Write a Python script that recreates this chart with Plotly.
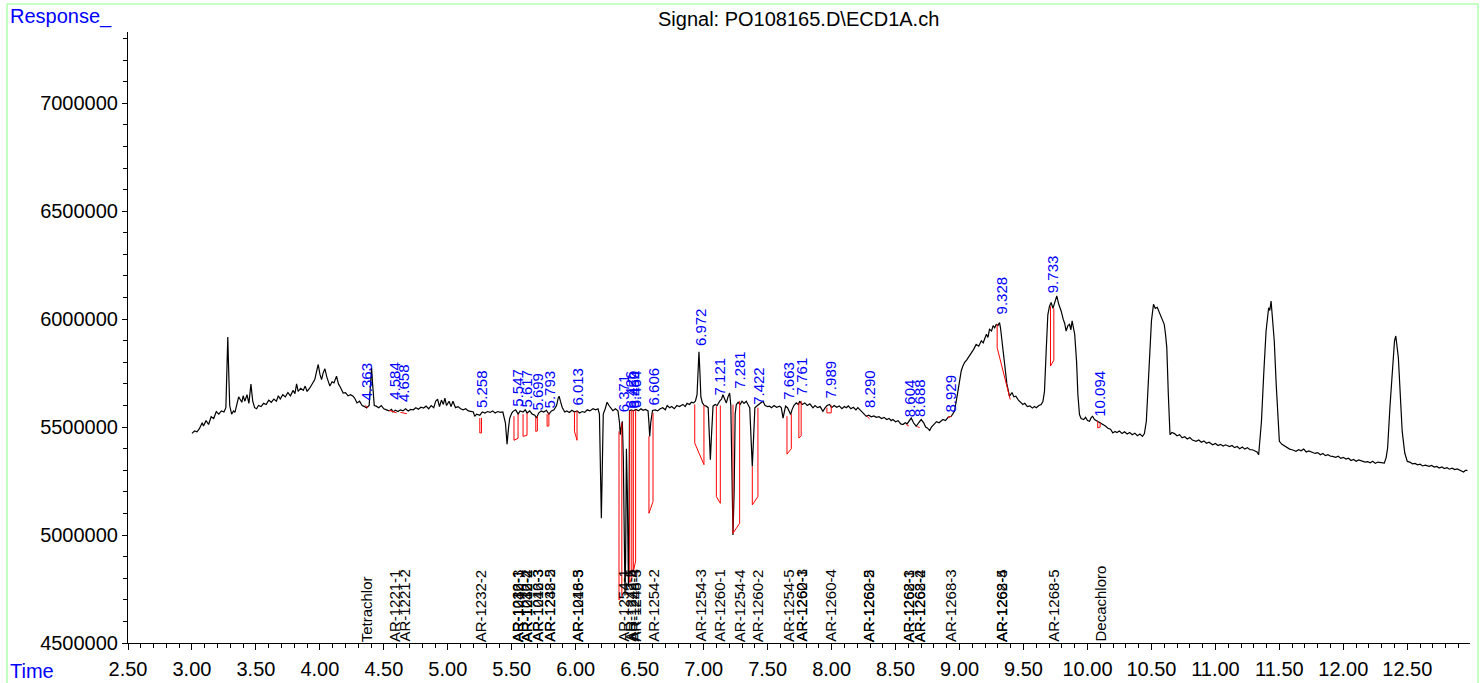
import plotly.graph_objects as go

# ---- chromatogram signal (time in min, response) ----
signal = [
    (3.00, 5471e3), (3.02, 5482e3), (3.04, 5478e3), (3.06, 5495e3), (3.08, 5520e3), (3.09, 5505e3),
    (3.11, 5530e3), (3.13, 5512e3), (3.15, 5548e3), (3.17, 5540e3), (3.19, 5572e3), (3.21, 5560e3),
    (3.23, 5575e3), (3.25, 5570e3), (3.265, 5590e3), (3.275, 5800e3), (3.280, 5917e3), (3.285, 5800e3),
    (3.295, 5600e3), (3.31, 5560e3), (3.325, 5575e3), (3.336, 5568e3), (3.35, 5600e3), (3.365, 5640e3),
    (3.375, 5630e3), (3.39, 5615e3), (3.40, 5645e3), (3.414, 5620e3), (3.43, 5650e3), (3.445, 5610e3),
    (3.461, 5699e3), (3.475, 5620e3), (3.49, 5590e3), (3.505, 5585e3), (3.52, 5600e3), (3.54, 5595e3),
    (3.56, 5610e3), (3.58, 5605e3), (3.60, 5625e3), (3.62, 5615e3), (3.64, 5630e3), (3.66, 5620e3),
    (3.675, 5645e3), (3.69, 5630e3), (3.71, 5650e3), (3.73, 5640e3), (3.75, 5660e3), (3.77, 5645e3),
    (3.79, 5670e3), (3.805, 5655e3), (3.818, 5700e3), (3.83, 5665e3), (3.85, 5680e3), (3.87, 5670e3),
    (3.885, 5690e3), (3.90, 5665e3), (3.92, 5680e3), (3.94, 5700e3), (3.96, 5720e3), (3.975, 5760e3),
    (3.987, 5790e3), (4.00, 5745e3), (4.013, 5720e3), (4.025, 5750e3), (4.039, 5770e3), (4.055, 5730e3),
    (4.07, 5700e3), (4.078, 5690e3), (4.095, 5710e3), (4.11, 5705e3), (4.13, 5736e3), (4.145, 5700e3),
    (4.16, 5685e3), (4.182, 5658e3), (4.20, 5660e3), (4.22, 5645e3), (4.24, 5650e3), (4.26, 5643e3),
    (4.275, 5630e3), (4.29, 5612e3), (4.31, 5620e3), (4.33, 5600e3), (4.35, 5595e3), (4.365, 5589e3),
    (4.385, 5600e3), (4.395, 5700e3), (4.404, 5775e3), (4.412, 5700e3), (4.425, 5600e3), (4.44, 5597e3),
    (4.46, 5590e3), (4.48, 5600e3), (4.50, 5585e3), (4.52, 5580e3), (4.54, 5575e3), (4.56, 5582e3),
    (4.57, 5570e3), (4.59, 5578e3), (4.61, 5572e3), (4.63, 5580e3), (4.65, 5575e3), (4.67, 5585e3),
    (4.69, 5575e3), (4.71, 5582e3), (4.73, 5580e3), (4.75, 5590e3), (4.77, 5583e3), (4.79, 5592e3),
    (4.81, 5588e3), (4.83, 5597e3), (4.85, 5585e3), (4.87, 5600e3), (4.89, 5590e3), (4.905, 5620e3),
    (4.92, 5629e3), (4.935, 5595e3), (4.95, 5625e3), (4.965, 5605e3), (4.977, 5634e3), (4.99, 5600e3),
    (5.01, 5620e3), (5.025, 5595e3), (5.04, 5620e3), (5.06, 5590e3), (5.08, 5595e3), (5.10, 5585e3),
    (5.12, 5580e3), (5.14, 5585e3), (5.16, 5575e3), (5.18, 5573e3), (5.20, 5570e3), (5.21, 5550e3),
    (5.225, 5560e3), (5.25, 5555e3), (5.27, 5570e3), (5.29, 5565e3), (5.31, 5572e3), (5.33, 5568e3),
    (5.35, 5575e3), (5.37, 5565e3), (5.39, 5572e3), (5.41, 5568e3), (5.43, 5570e3), (5.45, 5520e3),
    (5.463, 5421e3), (5.475, 5500e3), (5.484, 5542e3), (5.50, 5565e3), (5.51, 5573e3), (5.53, 5580e3),
    (5.55, 5560e3), (5.565, 5575e3), (5.588, 5570e3), (5.605, 5580e3), (5.62, 5565e3), (5.64, 5575e3),
    (5.66, 5560e3), (5.68, 5555e3), (5.693, 5542e3), (5.71, 5565e3), (5.73, 5575e3), (5.75, 5570e3),
    (5.77, 5578e3), (5.79, 5560e3), (5.81, 5575e3), (5.83, 5580e3), (5.85, 5600e3), (5.863, 5635e3),
    (5.87, 5643e3), (5.88, 5620e3), (5.895, 5590e3), (5.914, 5570e3), (5.93, 5575e3), (5.95, 5568e3),
    (5.97, 5578e3), (5.99, 5570e3), (6.01, 5575e3), (6.03, 5565e3), (6.05, 5572e3), (6.07, 5568e3),
    (6.09, 5580e3), (6.11, 5575e3), (6.135, 5585e3), (6.155, 5580e3), (6.174, 5585e3), (6.185, 5560e3),
    (6.193, 5300e3), (6.20, 5078e3), (6.207, 5300e3), (6.215, 5560e3), (6.23, 5585e3), (6.245, 5615e3),
    (6.26, 5600e3), (6.275, 5590e3), (6.29, 5576e3), (6.31, 5585e3), (6.33, 5575e3), (6.342, 5520e3),
    (6.348, 5465e3), (6.356, 5500e3), (6.364, 5527e3), (6.372, 5350e3), (6.38, 4900e3), (6.385, 4720e3),
    (6.39, 4900e3), (6.396, 5400e3), (6.403, 5200e3), (6.408, 4800e3), (6.412, 4760e3), (6.416, 5000e3),
    (6.42, 5576e3), (6.435, 5580e3), (6.45, 5575e3), (6.47, 5582e3), (6.49, 5576e3), (6.51, 5585e3),
    (6.526, 5578e3), (6.545, 5582e3), (6.565, 5575e3), (6.572, 5520e3), (6.578, 5457e3), (6.586, 5520e3),
    (6.60, 5577e3), (6.62, 5580e3), (6.64, 5575e3), (6.66, 5585e3), (6.68, 5590e3), (6.70, 5580e3),
    (6.715, 5600e3), (6.734, 5590e3), (6.75, 5595e3), (6.77, 5585e3), (6.79, 5600e3), (6.81, 5595e3),
    (6.838, 5605e3), (6.855, 5595e3), (6.87, 5610e3), (6.89, 5605e3), (6.904, 5615e3), (6.92, 5612e3),
    (6.935, 5620e3), (6.948, 5650e3), (6.956, 5760e3), (6.963, 5849e3), (6.97, 5760e3), (6.978, 5640e3),
    (6.99, 5612e3), (7.005, 5600e3), (7.02, 5597e3), (7.035, 5590e3), (7.045, 5450e3), (7.052, 5349e3),
    (7.06, 5450e3), (7.073, 5597e3), (7.09, 5605e3), (7.105, 5600e3), (7.125, 5620e3), (7.14, 5630e3),
    (7.15, 5650e3), (7.165, 5625e3), (7.177, 5612e3), (7.19, 5640e3), (7.203, 5658e3), (7.212, 5600e3),
    (7.22, 5200e3), (7.229, 5000e3), (7.238, 5200e3), (7.246, 5560e3), (7.255, 5604e3), (7.27, 5615e3),
    (7.285, 5605e3), (7.30, 5620e3), (7.315, 5610e3), (7.333, 5620e3), (7.35, 5600e3), (7.36, 5590e3),
    (7.37, 5450e3), (7.38, 5318e3), (7.39, 5450e3), (7.40, 5590e3), (7.42, 5600e3), (7.44, 5610e3),
    (7.463, 5620e3), (7.48, 5600e3), (7.50, 5595e3), (7.515, 5597e3), (7.53, 5590e3), (7.55, 5600e3),
    (7.57, 5592e3), (7.594, 5597e3), (7.607, 5589e3), (7.62, 5542e3), (7.63, 5580e3), (7.64, 5597e3),
    (7.655, 5590e3), (7.668, 5575e3), (7.68, 5558e3), (7.69, 5580e3), (7.705, 5600e3), (7.724, 5612e3),
    (7.74, 5605e3), (7.75, 5620e3), (7.77, 5605e3), (7.79, 5612e3), (7.81, 5600e3), (7.83, 5608e3),
    (7.854, 5589e3), (7.87, 5600e3), (7.89, 5590e3), (7.91, 5595e3), (7.932, 5573e3), (7.95, 5590e3),
    (7.965, 5600e3), (7.984, 5605e3), (8.00, 5590e3), (8.02, 5600e3), (8.04, 5592e3), (8.06, 5598e3),
    (8.08, 5585e3), (8.10, 5595e3), (8.115, 5590e3), (8.13, 5598e3), (8.15, 5585e3), (8.17, 5592e3),
    (8.19, 5580e3), (8.205, 5590e3), (8.219, 5581e3), (8.24, 5570e3), (8.255, 5560e3), (8.271, 5550e3),
    (8.29, 5555e3), (8.31, 5548e3), (8.33, 5552e3), (8.349, 5545e3), (8.37, 5548e3), (8.39, 5540e3),
    (8.41, 5545e3), (8.43, 5535e3), (8.45, 5540e3), (8.465, 5530e3), (8.479, 5535e3), (8.50, 5525e3),
    (8.52, 5530e3), (8.54, 5515e3), (8.557, 5512e3), (8.575, 5520e3), (8.59, 5515e3), (8.605, 5530e3),
    (8.622, 5542e3), (8.64, 5520e3), (8.661, 5504e3), (8.68, 5520e3), (8.70, 5535e3), (8.72, 5520e3),
    (8.735, 5500e3), (8.75, 5495e3), (8.766, 5484e3), (8.78, 5500e3), (8.80, 5515e3), (8.82, 5525e3),
    (8.84, 5520e3), (8.855, 5530e3), (8.87, 5535e3), (8.89, 5530e3), (8.91, 5545e3), (8.935, 5550e3),
    (8.96, 5573e3), (8.98, 5640e3), (9.00, 5713e3), (9.013, 5760e3), (9.026, 5783e3), (9.04, 5800e3),
    (9.055, 5810e3), (9.078, 5829e3), (9.095, 5845e3), (9.11, 5860e3), (9.13, 5883e3), (9.15, 5875e3),
    (9.17, 5900e3), (9.185, 5890e3), (9.195, 5907e3), (9.21, 5930e3), (9.222, 5915e3), (9.234, 5953e3),
    (9.25, 5945e3), (9.262, 5970e3), (9.275, 5960e3), (9.287, 5976e3), (9.30, 5970e3), (9.3125, 5984e3),
    (9.32, 5960e3), (9.335, 5880e3), (9.35, 5790e3), (9.37, 5700e3), (9.39, 5643e3), (9.41, 5660e3),
    (9.425, 5640e3), (9.44, 5643e3), (9.46, 5625e3), (9.48, 5615e3), (9.495, 5605e3), (9.51, 5610e3),
    (9.53, 5595e3), (9.55, 5598e3), (9.57, 5588e3), (9.585, 5595e3), (9.60, 5590e3), (9.62, 5600e3),
    (9.638, 5605e3), (9.652, 5620e3), (9.664, 5666e3), (9.677, 5850e3), (9.69, 6020e3), (9.703, 6060e3),
    (9.716, 6077e3), (9.73, 6050e3), (9.745, 6080e3), (9.76, 6108e3), (9.775, 6070e3), (9.794, 6038e3),
    (9.81, 6000e3), (9.822, 5980e3), (9.833, 5945e3), (9.847, 5970e3), (9.86, 5976e3), (9.87, 5950e3),
    (9.88, 5992e3), (9.89, 5960e3), (9.90, 5930e3), (9.915, 5800e3), (9.925, 5650e3), (9.9375, 5558e3),
    (9.95, 5540e3), (9.97, 5535e3), (9.985, 5545e3), (10.00, 5530e3), (10.016, 5527e3), (10.03, 5545e3),
    (10.04, 5550e3), (10.055, 5535e3), (10.07, 5530e3), (10.09, 5520e3), (10.105, 5515e3), (10.12, 5512e3),
    (10.14, 5505e3), (10.16, 5495e3), (10.18, 5490e3), (10.198, 5473e3), (10.215, 5480e3), (10.23, 5475e3),
    (10.25, 5482e3), (10.27, 5470e3), (10.29, 5478e3), (10.31, 5468e3), (10.33, 5475e3), (10.35, 5465e3),
    (10.37, 5472e3), (10.39, 5460e3), (10.41, 5468e3), (10.43, 5457e3), (10.445, 5470e3), (10.46, 5527e3),
    (10.48, 5750e3), (10.50, 5992e3), (10.516, 6069e3), (10.53, 6050e3), (10.545, 6055e3), (10.5625, 6030e3),
    (10.58, 6010e3), (10.60, 5976e3), (10.61, 5930e3), (10.62, 5868e3), (10.632, 5650e3), (10.645, 5465e3),
    (10.66, 5475e3), (10.68, 5470e3), (10.70, 5460e3), (10.72, 5465e3), (10.74, 5450e3), (10.76, 5455e3),
    (10.78, 5445e3), (10.80, 5452e3), (10.82, 5440e3), (10.849, 5434e3), (10.87, 5440e3), (10.89, 5430e3),
    (10.91, 5436e3), (10.93, 5425e3), (10.95, 5430e3), (10.979, 5418e3), (11.00, 5424e3), (11.02, 5415e3),
    (11.04, 5420e3), (11.06, 5412e3), (11.08, 5418e3), (11.11, 5410e3), (11.13, 5415e3), (11.15, 5405e3),
    (11.17, 5410e3), (11.19, 5400e3), (11.21, 5408e3), (11.23, 5398e3), (11.25, 5405e3), (11.27, 5395e3),
    (11.29, 5395e3), (11.31, 5390e3), (11.325, 5385e3), (11.338, 5372e3), (11.35, 5450e3), (11.36, 5527e3),
    (11.378, 5750e3), (11.396, 5945e3), (11.416, 6053e3), (11.425, 6040e3), (11.435, 6084e3), (11.447, 6000e3),
    (11.46, 5899e3), (11.475, 5700e3), (11.49, 5500e3), (11.50, 5434e3), (11.52, 5420e3), (11.54, 5412e3),
    (11.56, 5405e3), (11.58, 5398e3), (11.60, 5395e3), (11.63, 5388e3), (11.65, 5395e3), (11.67, 5390e3),
    (11.69, 5398e3), (11.71, 5385e3), (11.73, 5390e3), (11.76, 5382e3), (11.78, 5378e3), (11.80, 5382e3),
    (11.82, 5372e3), (11.84, 5378e3), (11.86, 5368e3), (11.88, 5372e3), (11.90, 5365e3), (11.916, 5364e3),
    (11.94, 5360e3), (11.96, 5365e3), (11.98, 5355e3), (12.00, 5360e3), (12.02, 5352e3), (12.04, 5356e3),
    (12.06, 5345e3), (12.08, 5350e3), (12.10, 5342e3), (12.12, 5348e3), (12.15, 5341e3), (12.17, 5338e3),
    (12.19, 5340e3), (12.21, 5335e3), (12.23, 5342e3), (12.25, 5332e3), (12.27, 5338e3), (12.29, 5335e3),
    (12.32, 5333e3), (12.335, 5360e3), (12.346, 5403e3), (12.365, 5600e3), (12.385, 5790e3), (12.40, 5900e3),
    (12.41, 5922e3), (12.42, 5880e3), (12.43, 5821e3), (12.445, 5650e3), (12.46, 5480e3), (12.48, 5380e3),
    (12.50, 5341e3), (12.52, 5338e3), (12.54, 5330e3), (12.56, 5332e3), (12.58, 5325e3), (12.60, 5328e3),
    (12.62, 5320e3), (12.64, 5324e3), (12.67, 5318e3), (12.69, 5322e3), (12.71, 5315e3), (12.73, 5318e3),
    (12.75, 5310e3), (12.77, 5315e3), (12.79, 5308e3), (12.81, 5312e3), (12.83, 5305e3), (12.85, 5310e3),
    (12.87, 5303e3), (12.89, 5306e3), (12.906, 5302e3), (12.92, 5296e3), (12.94, 5292e3), (12.955, 5300e3),
    (12.97, 5300e3),
]
sig_time = [p[0] for p in signal]
sig_resp = [p[1] for p in signal]

# ---- integration marks (red), one polyline per peak ----
integration_marks = [
    [(4.352, 5600e3), (4.375, 5590e3)],
    [(4.54, 5578e3), (4.60, 5566e3)],
    [(4.63, 5568e3), (4.68, 5562e3)],
    [(5.25, 5542e3), (5.25, 5473e3), (5.263, 5473e3), (5.263, 5542e3)],
    [(5.517, 5550e3), (5.517, 5439e3), (5.549, 5448e3), (5.549, 5560e3)],
    [(5.588, 5560e3), (5.588, 5457e3), (5.619, 5462e3), (5.619, 5565e3)],
    [(5.6875, 5545e3), (5.6875, 5480e3), (5.70, 5482e3), (5.70, 5550e3)],
    [(5.776, 5560e3), (5.776, 5504e3), (5.79, 5506e3), (5.79, 5565e3)],
    [(5.99, 5570e3), (5.99, 5480e3), (6.01, 5439e3), (6.01, 5575e3)],
    [(6.338, 5480e3), (6.338, 4700e3), (6.36, 4720e3), (6.36, 5520e3)],
    [(6.422, 5576e3), (6.422, 4780e3), (6.438, 4800e3), (6.438, 5578e3)],
    [(6.45, 5578e3), (6.45, 4830e3), (6.468, 4880e3), (6.468, 5580e3)],
    [(6.572, 5457e3), (6.572, 5101e3), (6.604, 5155e3), (6.604, 5566e3)],
    [(6.93, 5605e3), (6.93, 5426e3), (7.002, 5326e3), (7.002, 5600e3)],
    [(7.099, 5597e3), (7.099, 5178e3), (7.13, 5147e3), (7.13, 5600e3)],
    [(7.229, 5604e3), (7.229, 5008e3), (7.281, 5055e3), (7.281, 5620e3)],
    [(7.38, 5318e3), (7.38, 5140e3), (7.424, 5178e3), (7.424, 5590e3)],
    [(7.651, 5550e3), (7.651, 5375e3), (7.685, 5400e3), (7.685, 5560e3)],
    [(7.744, 5612e3), (7.744, 5449e3), (7.762, 5460e3), (7.762, 5620e3)],
    [(7.963, 5590e3), (7.963, 5566e3), (7.997, 5566e3), (7.997, 5600e3)],
    [(8.273, 5552e3), (8.297, 5538e3)],
    [(8.583, 5512e3), (8.604, 5505e3)],
    [(8.669, 5502e3), (8.6875, 5498e3)],
    [(8.909, 5545e3), (8.935, 5550e3)],
    [(9.294, 5976e3), (9.294, 5868e3), (9.396, 5628e3)],
    [(9.711, 6060e3), (9.711, 5783e3), (9.737, 5810e3), (9.737, 6050e3)],
    [(10.08, 5527e3), (10.08, 5496e3), (10.099, 5500e3), (10.099, 5520e3)],
]

# ---- retention-time labels (blue) ----
peak_rt = [4.363, 4.584, 4.658, 5.258, 5.547, 5.617, 5.699, 5.793, 6.013, 6.371, 6.426,
           6.450, 6.464, 6.606, 6.972, 7.121, 7.281, 7.422, 7.663, 7.761, 7.989, 8.290,
           8.604, 8.688, 8.929, 9.328, 9.733, 10.094]
peak_label_base = [5620e3, 5620e3, 5612e3, 5583e3, 5589e3, 5585e3, 5573e3, 5583e3, 5597e3,
                   5565e3, 5583e3, 5583e3, 5583e3, 5597e3, 5871e3, 5643e3, 5671e3, 5597e3,
                   5620e3, 5643e3, 5629e3, 5583e3, 5541e3, 5541e3, 5565e3, 6015e3, 6117e3,
                   5541e3]

# ---- compound names along the time axis ----
compound_rt = [4.363, 4.584, 4.658, 5.258,
               5.547, 5.547, 5.547, 5.617, 5.617, 5.617, 5.699, 5.699, 5.793, 5.793,
               6.013, 6.013, 6.371, 6.426, 6.450, 6.464, 6.606, 6.972, 7.121, 7.281,
               7.422, 7.663, 7.761, 7.761, 7.989, 8.290, 8.290, 8.604, 8.604, 8.688,
               8.688, 8.929, 9.328, 9.328, 9.733, 10.094]
compound_name = ["Tetrachlor", "AR-1221-1", "AR-1221-2", "AR-1232-2",
                 "AR-1016-1", "AR-1232-3", "AR-1242-1", "AR-1016-2", "AR-1232-4", "AR-1242-2",
                 "AR-1016-3", "AR-1242-3", "AR-1232-5", "AR-1248-2",
                 "AR-1016-5", "AR-1248-3", "AR-1254-1", "AR-1242-5", "AR-1248-4", "AR-1248-5",
                 "AR-1254-2", "AR-1254-3", "AR-1260-1", "AR-1254-4",
                 "AR-1260-2", "AR-1254-5", "AR-1260-3", "AR-1262-1", "AR-1260-4",
                 "AR-1260-5", "AR-1262-2", "AR-1268-1", "AR-1262-3", "AR-1262-4",
                 "AR-1268-2", "AR-1268-3", "AR-1262-5", "AR-1268-4", "AR-1268-5", "Decachloro"]

x_range = [2.5, 12.99]
y_range = [4500000, 7330000]
x_ticks_major = 0.5
x_ticks_minor = 0.1
y_ticks_major = 500000
y_ticks_minor = 100000

# ---- figure geometry ----
W, H = 1482, 683
ML, MR, MT, MB = 128, 12, 32, 40
PW, PH = W - ML - MR, H - MT - MB


def px_to_paper_x(px):
    return (px - ML) / PW


def px_to_paper_y(py):
    return (H - MB - py) / PH


FONT = "Liberation Sans, Arial, sans-serif"
BLUE = "#0000FF"

fig = go.Figure()
fig.add_trace(go.Scatter(x=sig_time, y=sig_resp, mode="lines",
                         line=dict(color="black", width=1.2), hoverinfo="skip"))

mx, my = [], []
for mark in integration_marks:
    for t, v in mark:
        mx.append(t)
        my.append(v)
    mx.append(None)
    my.append(None)
fig.add_trace(go.Scatter(x=mx, y=my, mode="lines", line=dict(color="#FF0000", width=1),
                         hoverinfo="skip", connectgaps=False))

annotations = []
for rt, base in zip(peak_rt, peak_label_base):
    annotations.append(dict(x=rt, y=base, xref="x", yref="y", text=f"{rt:.3f}",
                            textangle=-90, showarrow=False, xanchor="center", yanchor="bottom",
                            font=dict(family=FONT, size=15, color=BLUE), borderpad=0))
for rt, name in zip(compound_rt, compound_name):
    annotations.append(dict(x=rt, y=y_range[0], xref="x", yref="y", text=name,
                            textangle=-90, showarrow=False, xanchor="center", yanchor="bottom",
                            font=dict(family=FONT, size=15, color="black"), borderpad=0))

annotations.append(dict(x=px_to_paper_x(8), y=px_to_paper_y(17), xref="paper", yref="paper",
                        text="Response_", showarrow=False, xanchor="left", yanchor="middle",
                        font=dict(family=FONT, size=20, color=BLUE)))
annotations.append(dict(x=px_to_paper_x(8), y=px_to_paper_y(671), xref="paper", yref="paper",
                        text="Time", showarrow=False, xanchor="left", yanchor="middle",
                        font=dict(family=FONT, size=20, color=BLUE)))
annotations.append(dict(x=px_to_paper_x(798), y=px_to_paper_y(19), xref="paper", yref="paper",
                        text="Signal: PO108165.D\\ECD1A.ch", showarrow=False,
                        xanchor="center", yanchor="middle",
                        font=dict(family=FONT, size=20, color="black")))

fig.update_layout(
    width=W, height=H, autosize=False,
    margin=dict(l=ML, r=MR, t=MT, b=MB, pad=0, autoexpand=False),
    paper_bgcolor="white", plot_bgcolor="white",
    showlegend=False,
    font=dict(family=FONT, size=20, color="black"),
    annotations=annotations,
    shapes=[dict(type="rect", xref="paper", yref="paper",
                 x0=px_to_paper_x(7), x1=px_to_paper_x(1478),
                 y0=px_to_paper_y(690), y1=px_to_paper_y(4),
                 line=dict(color="#88FF88", width=1), fillcolor="rgba(0,0,0,0)", layer="below")],
)
fig.update_xaxes(range=x_range, showline=True, linecolor="black", linewidth=1, automargin=False,
                 ticks="outside", ticklen=6, tickcolor="black", tickwidth=1,
                 tick0=2.5, dtick=x_ticks_major, tickformat=".2f", showgrid=False, zeroline=False,
                 tickfont=dict(family=FONT, size=20, color="black"), ticklabelstandoff=2,
                 minor=dict(dtick=x_ticks_minor, tick0=2.5, ticks="outside", ticklen=4,
                            tickcolor="black", showgrid=False))
fig.update_yaxes(range=y_range, showline=True, linecolor="black", linewidth=1, automargin=False,
                 ticks="outside", ticklen=5, tickcolor="black", tickwidth=1,
                 tick0=4500000, dtick=y_ticks_major, tickformat="d", showgrid=False, zeroline=False,
                 tickfont=dict(family=FONT, size=20, color="black"),
                 minor=dict(dtick=y_ticks_minor, ticks="outside", ticklen=4,
                            tickcolor="black", showgrid=False))

fig.write_html("out.html", config={"displayModeBar": False},
               post_script="document.body.style.margin='0';document.body.style.overflow='hidden';")
